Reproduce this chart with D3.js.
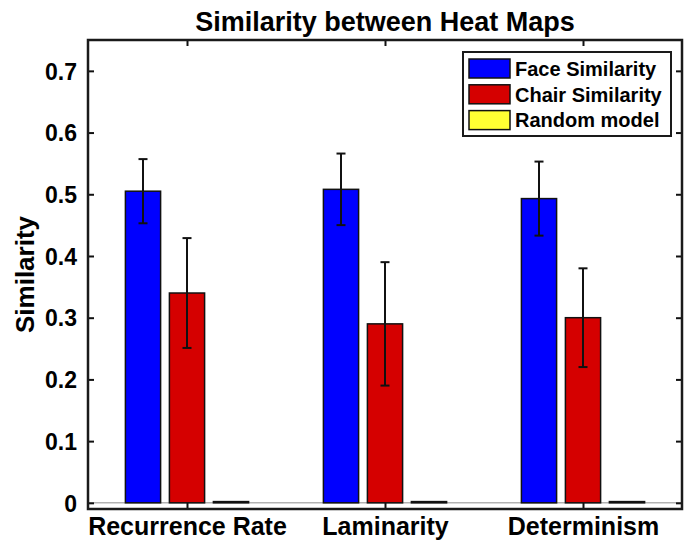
<!DOCTYPE html>
<html><head><meta charset="utf-8">
<script src="https://cdn.jsdelivr.net/npm/d3@7"></script>
<style>body{margin:0;background:#fff}svg{display:block}text{font-family:"Liberation Sans",Arial,Helvetica,sans-serif;font-weight:bold;fill:#000}</style>
</head><body><svg id="c" width="689" height="543"></svg>
<script>
const categories = ["Recurrence Rate", "Laminarity", "Determinism"];
const seriesNames = ["Face Similarity", "Chair Similarity", "Random model"];
const faceValues = [0.505, 0.508, 0.493];
const faceErrors = [0.052, 0.058, 0.060];
const chairValues = [0.340, 0.290, 0.300];
const chairErrors = [0.089, 0.100, 0.080];
const randomValues = [0.002, 0.002, 0.002];
const seriesColors = ["#0000ff", "#d50000", "#ffff33"];
const yTicks = [0, 0.1, 0.2, 0.3, 0.4, 0.5, 0.6, 0.7];
const yDomain = [-0.01, 0.75];

const svg = d3.select("#c");
const L = 88, R = 682, T = 40, B = 509;
const x = d3.scaleLinear().domain([0.5, 3.5]).range([L, R]);
const y = d3.scaleLinear().domain(yDomain).range([B, T]);
const pxUnit = x(1) - x(0);
const groupW = 2 / 3 * pxUnit;
const sub = d3.scaleBand().domain(seriesNames).range([-groupW / 2, groupW / 2]).paddingInner(0.2).paddingOuter(0.1);

const series = [
  {name: seriesNames[0], values: faceValues, errors: faceErrors, color: seriesColors[0]},
  {name: seriesNames[1], values: chairValues, errors: chairErrors, color: seriesColors[1]},
  {name: seriesNames[2], values: randomValues, errors: null, color: seriesColors[2]}
];

// zero baseline
svg.append("line").attr("x1", L).attr("x2", R).attr("y1", y(0)).attr("y2", y(0))
  .attr("stroke", "#8c8c8c").attr("stroke-width", 1);

// bars
series.forEach(s => {
  svg.append("g").selectAll("rect").data(s.values).join("rect")
    .attr("x", (d, i) => x(i + 1) + sub(s.name))
    .attr("width", sub.bandwidth())
    .attr("y", d => y(d))
    .attr("height", d => y(0) - y(d))
    .attr("fill", s.color).attr("stroke", "#111").attr("stroke-width", 1.5);
});

// error bars
series.filter(s => s.errors).forEach(s => {
  const g = svg.append("g").attr("stroke", "#111").attr("stroke-width", 2);
  s.values.forEach((v, i) => {
    const cx = x(i + 1) + sub(s.name) + sub.bandwidth() / 2;
    const hi = y(v + s.errors[i]), lo = y(v - s.errors[i]);
    g.append("line").attr("x1", cx).attr("x2", cx).attr("y1", hi).attr("y2", lo);
    g.append("line").attr("x1", cx - 4.5).attr("x2", cx + 4.5).attr("y1", hi).attr("y2", hi);
    g.append("line").attr("x1", cx - 4.5).attr("x2", cx + 4.5).attr("y1", lo).attr("y2", lo);
  });
});

// axes
const tickLen = 6;
const yLeft = d3.axisLeft(y).tickValues(yTicks).tickSize(-tickLen).tickPadding(11).tickFormat(d => d === 0 ? "0" : d3.format(".1f")(d));
const gl = svg.append("g").attr("transform", `translate(${L},0)`).call(yLeft);
const yRight = d3.axisRight(y).tickValues(yTicks).tickSize(-tickLen).tickFormat("");
const gr = svg.append("g").attr("transform", `translate(${R},0)`).call(yRight);
const xBottom = d3.axisBottom(x).tickValues([1, 2, 3]).tickSize(-tickLen).tickFormat(d => categories[d - 1]);
const gb = svg.append("g").attr("transform", `translate(0,${B})`).call(xBottom);
const xTop = d3.axisTop(x).tickValues([1, 2, 3]).tickSize(-tickLen).tickFormat("");
const gt = svg.append("g").attr("transform", `translate(0,${T})`).call(xTop);
[gl, gr, gb, gt].forEach(g => {
  g.select(".domain").remove();
  g.selectAll(".tick line").attr("stroke", "#111").attr("stroke-width", 2);
});
gl.selectAll(".tick text").style("font-size", "23px").attr("dy", "0.36em");
gb.selectAll(".tick text").style("font-size", "25px").attr("y", 26).attr("dy", null);

// box
svg.append("rect").attr("x", L).attr("y", T).attr("width", R - L).attr("height", B - T)
  .attr("fill", "none").attr("stroke", "#1a1a1a").attr("stroke-width", 2.5);

// title and y-label
svg.append("text").attr("x", (L + R) / 2).attr("y", 31).attr("text-anchor", "middle")
  .style("font-size", "27px").text("Similarity between Heat Maps");
svg.append("text").attr("transform", `translate(34,${(T + B) / 2}) rotate(-90)`)
  .attr("text-anchor", "middle").style("font-size", "26px").text("Similarity");

// legend
const lg = svg.append("g").attr("transform", "translate(463,52)");
lg.append("rect").attr("width", 208).attr("height", 84).attr("fill", "#fff").attr("stroke", "#1a1a1a").attr("stroke-width", 2);
seriesNames.forEach((n, i) => {
  lg.append("rect").attr("x", 6).attr("y", 7 + i * 25.8).attr("width", 41).attr("height", 19)
    .attr("fill", seriesColors[i]).attr("stroke", "#111").attr("stroke-width", 1.5);
  lg.append("text").attr("x", 52).attr("y", 16.5 + i * 25.8).attr("dy", "0.36em")
    .style("font-size", "20px").text(n);
});
</script></body></html>
